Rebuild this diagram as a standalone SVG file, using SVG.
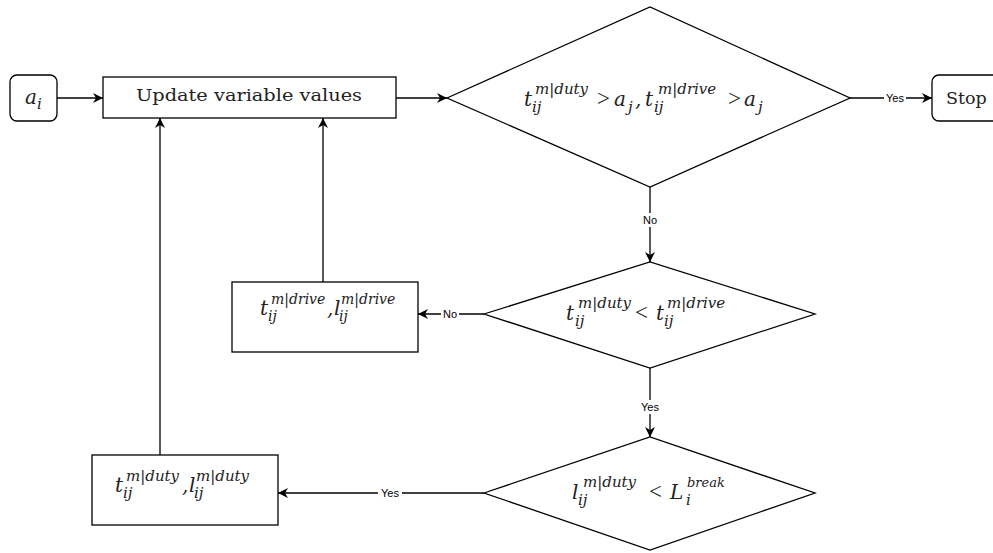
<svg xmlns="http://www.w3.org/2000/svg" width="993" height="553" viewBox="0 0 993 553">
<defs>
<marker id="arr" viewBox="0 0 10 10" refX="10" refY="5" markerWidth="10" markerHeight="10" markerUnits="userSpaceOnUse" orient="auto">
<path d="M0,0 L10,5 L0,10 L3,5 z" fill="#000"/>
</marker>
<style>
.shape{fill:#fff;stroke:#000;stroke-width:1.3}
.edge{fill:none;stroke:#000;stroke-width:1.3}
.m{font-family:"DejaVu Serif",serif;font-style:italic;font-size:20px;fill:#222}
.s{font-size:15px}
.s2{font-size:14px}
.s3{font-size:13px}
.r{font-family:"Liberation Serif",serif;font-style:normal;font-size:23px}
.t{font-family:"DejaVu Serif",serif;font-size:17.5px;fill:#222}
.lbl{font-family:"Liberation Sans",Arial,sans-serif;font-size:11px;fill:#000}
</style>
</defs>
<rect width="993" height="553" fill="#fff"/>
<g id="connectors">
<line class="edge" x1="57" y1="98" x2="103" y2="98" marker-end="url(#arr)"/>
<line class="edge" x1="396" y1="98" x2="447" y2="98" marker-end="url(#arr)"/>
<line class="edge" x1="850" y1="98" x2="932" y2="98" marker-end="url(#arr)"/>
<line class="edge" x1="650" y1="187" x2="650" y2="262" marker-end="url(#arr)"/>
<line class="edge" x1="484" y1="314" x2="418" y2="314" marker-end="url(#arr)"/>
<line class="edge" x1="323" y1="282" x2="323" y2="118" marker-end="url(#arr)"/>
<line class="edge" x1="650" y1="368" x2="650" y2="437" marker-end="url(#arr)"/>
<line class="edge" x1="484" y1="493" x2="278" y2="493" marker-end="url(#arr)"/>
<line class="edge" x1="160" y1="455" x2="160" y2="118" marker-end="url(#arr)"/>
<rect x="884" y="91" width="22" height="14" fill="#fff"/>
<text class="lbl" x="895" y="102" text-anchor="middle">Yes</text>
<rect x="641" y="213" width="18" height="14" fill="#fff"/>
<text class="lbl" x="650" y="224" text-anchor="middle">No</text>
<rect x="441" y="307" width="18" height="14" fill="#fff"/>
<text class="lbl" x="450" y="318" text-anchor="middle">No</text>
<rect x="639" y="400" width="22" height="14" fill="#fff"/>
<text class="lbl" x="650" y="411" text-anchor="middle">Yes</text>
<rect x="378" y="486" width="24" height="14" fill="#fff"/>
<text class="lbl" x="390" y="497" text-anchor="middle">Yes</text>
</g>
<g id="start">
<rect class="shape" x="10" y="75" width="47" height="46" rx="7"/>
<text class="m" x="25" y="104">a<tspan class="s" x="37" y="109">i</tspan></text>
</g>
<g id="update">
<rect class="shape" x="103" y="77" width="293" height="41"/>
<text class="t" x="136" y="101" textLength="226" lengthAdjust="spacingAndGlyphs">Update variable values</text>
</g>
<g id="cond1">
<polygon class="shape" points="447,98 650,7 850,98 650,187"/>
<text class="m" x="524" y="106">t<tspan class="s" x="535" y="94">m|duty</tspan><tspan class="s" x="532" y="112">ij</tspan><tspan class="r" x="597" y="106">&gt;</tspan><tspan x="614" y="106">a</tspan><tspan class="s" x="628" y="112">j</tspan><tspan x="635" y="106">,</tspan><tspan x="645" y="106">t</tspan><tspan class="s" x="658" y="94">m|drive</tspan><tspan class="s" x="654" y="112">ij</tspan><tspan class="r" x="728" y="106">&gt;</tspan><tspan x="744" y="106">a</tspan><tspan class="s" x="758" y="112">j</tspan></text>
</g>
<g id="stop">
<rect class="shape" x="932" y="75" width="70" height="46" rx="7"/>
<text class="t" x="946" y="104" font-size="18">Stop</text>
</g>
<g id="cond2">
<polygon class="shape" points="484,314 650,262 815,314 650,368"/>
<text class="m" x="566" y="320">t<tspan class="s" x="578" y="308">m|duty</tspan><tspan class="s" x="575" y="326">ij</tspan><tspan class="r" x="635" y="320">&lt;</tspan><tspan x="656" y="320">t</tspan><tspan class="s" x="667" y="308">m|drive</tspan><tspan class="s" x="664" y="326">ij</tspan></text>
</g>
<g id="drive">
<rect class="shape" x="232" y="282" width="186" height="70"/>
<text class="m" x="260" y="315">t<tspan class="s2" x="271" y="304">m|drive</tspan><tspan class="s2" x="268" y="321">ij</tspan><tspan x="327" y="315">,</tspan><tspan x="334" y="315">l</tspan><tspan class="s2" x="341" y="304">m|drive</tspan><tspan class="s2" x="339" y="321">ij</tspan></text>
</g>
<g id="cond3">
<polygon class="shape" points="484,493 650,437 815,493 650,550"/>
<text class="m" x="572" y="499">l<tspan class="s" x="583" y="487">m|duty</tspan><tspan class="s" x="578" y="505">ij</tspan><tspan class="r" x="649" y="499">&lt;</tspan><tspan x="670" y="499">L</tspan><tspan class="s3" x="687" y="487">break</tspan><tspan class="s" x="686" y="505">i</tspan></text>
</g>
<g id="duty">
<rect class="shape" x="92" y="455" width="186" height="70"/>
<text class="m" x="115" y="492">t<tspan class="s" x="126" y="481">m|duty</tspan><tspan class="s" x="123" y="498">ij</tspan><tspan x="182" y="492">,</tspan><tspan x="189" y="492">l</tspan><tspan class="s" x="196" y="481">m|duty</tspan><tspan class="s" x="194" y="498">ij</tspan></text>
</g>
</svg>
